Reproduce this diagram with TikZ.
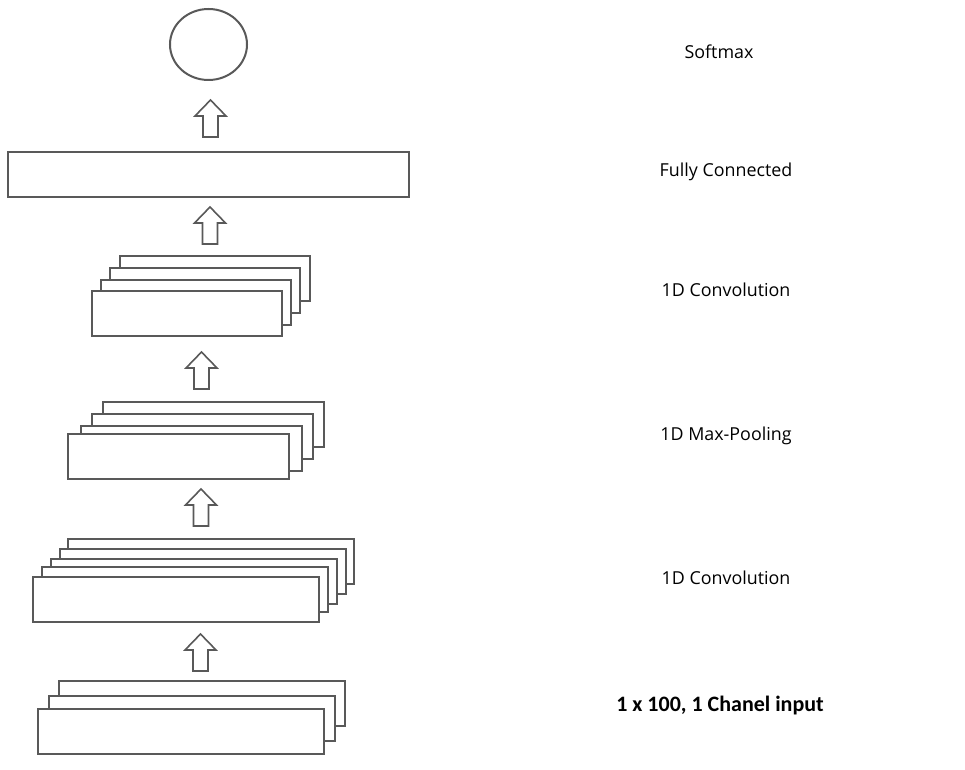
\documentclass[tikz,border=0pt]{standalone}
\usepackage{fontspec}
\setmainfont{Open Sans}
\newfontfamily\calibri{Carlito}
\definecolor{edge}{HTML}{595959}
\tikzset{
  layer/.style={draw=edge, line width=1.5pt, fill=white, inner sep=0pt, rectangle},
  convbox/.style={layer, minimum width={190*0.75pt}, minimum height={45*0.75pt}},
  poolbox/.style={layer, minimum width={221*0.75pt}, minimum height={45*0.75pt}},
  widebox/.style={layer, minimum width={286*0.75pt}, minimum height={45*0.75pt}},
  fcbox/.style={layer, minimum width={401*0.75pt}, minimum height={45*0.75pt}},
  outnode/.style={draw=edge, line width=1.5pt, fill=white, ellipse, inner sep=0pt, minimum width={77*0.75pt}, minimum height={71*0.75pt}},
  lbl/.style={font=\fontsize{13.4}{16}\selectfont, text=black, inner sep=0pt},
  lblbold/.style={font=\calibri\bfseries\fontsize{16.5}{19}\selectfont, text=black, inner sep=0pt},
  arrowline/.style={draw=edge, line width=1.2pt, fill=white, line join=miter},
  blockarrow/.pic={\path[arrowline] (-7.5,0) -- (-7.5,-21) -- (-15.5,-21) -- (0,-37) -- (15.5,-21) -- (7.5,-21) -- (7.5,0) -- cycle;}
}
\usetikzlibrary{shapes.geometric}
\begin{document}
\begin{tikzpicture}[x=0.75pt,y=-0.75pt]
\useasboundingbox (0,0) rectangle (965,770);
% output
\node[outnode] (soft) at (208.5,44.5) {};
\node[fcbox] (fc) at (208.5,174.5) {};
% conv 2
\node[convbox] (cb4) at (215,278.5) {};
\node[convbox] (cb3) at (205,290.5) {};
\node[convbox] (cb2) at (196,302.5) {};
\node[convbox] (cb1) at (187,313.5) {};
% pooling
\node[poolbox] (pb4) at (213.5,424.5) {};
\node[poolbox] (pb3) at (202.5,436.5) {};
\node[poolbox] (pb2) at (191.5,448) {};
\node[poolbox] (pb1) at (178,456.5) {};
% conv 1
\node[widebox] (ca5) at (211,561.5) {};
\node[widebox] (ca4) at (202.5,571.5) {};
\node[widebox] (ca3) at (194,581.5) {};
\node[widebox] (ca2) at (184.5,589.5) {};
\node[widebox] (ca1) at (176,599.5) {};
% input
\node[widebox] (in3) at (202,703.5) {};
\node[widebox] (in2) at (192,718.5) {};
\node[widebox] (in1) at (181,731) {};
% arrows
\coordinate (a1) at (210.5,137);
\coordinate (a2) at (210,244);
\coordinate (a3) at (201.5,389);
\coordinate (a4) at (201,526);
\coordinate (a5) at (200.5,671);
\foreach \c in {a1,a2,a3,a4,a5} \pic at (\c) {blockarrow};
% labels
\node[lbl] (l1) at (719,52) {Softmax};
\node[lbl] (l2) at (726,172) {Fully Connected};
\node[lbl] (l3) at (726,290) {1D Convolution};
\node[lbl] (l4) at (726,436) {1D Max-Pooling};
\node[lbl] (l5) at (726,578) {1D Convolution};
\node[lblbold] (l6) at (720,706) {1 x 100, 1 Chanel input};
\end{tikzpicture}
\end{document}
